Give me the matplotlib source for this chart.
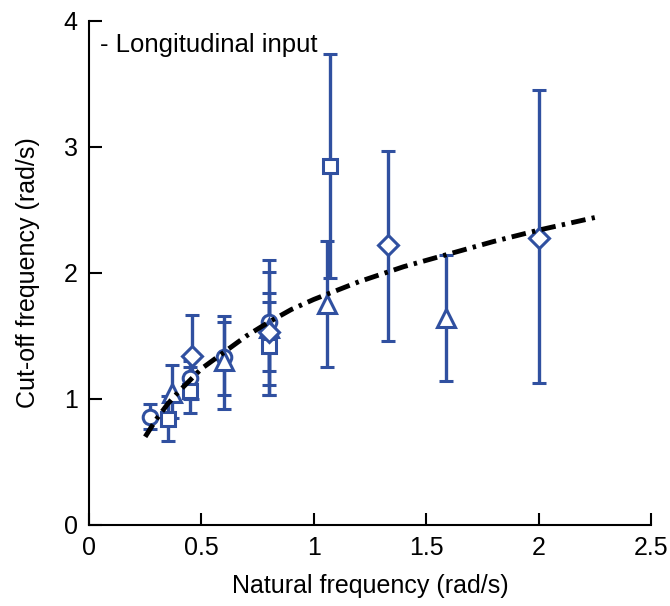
# Cut-off frequency vs natural frequency, longitudinal input.

import numpy as np
import matplotlib
matplotlib.use('Agg')
import matplotlib.pyplot as plt

plt.rcParams['font.family'] = ['Liberation Sans', 'DejaVu Sans']

# Measured points (natural freq, cut-off freq, lower and upper bar ends), one set per marker.
circ_x = [0.27, 0.45, 0.60, 0.80]
circ_y = [0.86, 1.17, 1.33, 1.61]
circ_lo = [0.76, 1.00, 1.03, 1.11]
circ_hi = [0.96, 1.30, 1.66, 2.10]

sq_x = [0.35, 0.45, 0.80, 1.07]
sq_y = [0.84, 1.06, 1.42, 2.85]
sq_lo = [0.67, 0.89, 1.03, 1.96]
sq_hi = [1.02, 1.25, 1.84, 3.74]

tri_x = [0.37, 0.60, 0.80, 1.06, 1.59]
tri_y = [1.05, 1.30, 1.56, 1.75, 1.64]
tri_lo = [0.85, 0.92, 1.22, 1.25, 1.14]
tri_hi = [1.27, 1.61, 1.77, 2.25, 2.14]

dia_x = [0.46, 0.80, 1.33, 2.00]
dia_y = [1.34, 1.53, 2.22, 2.28]
dia_lo = [1.00, 1.03, 1.46, 1.13]
dia_hi = [1.67, 2.01, 2.97, 3.45]

# Fitted trend
fit_x = [0.25, 0.30, 0.35, 0.40, 0.50, 0.60, 0.70, 0.80, 0.90, 1.00,
         1.10, 1.20, 1.40, 1.60, 1.80, 2.00, 2.25]
fit_y = [0.70, 0.84, 0.96, 1.06, 1.24, 1.37, 1.50, 1.61, 1.71, 1.79,
         1.86, 1.93, 2.05, 2.15, 2.25, 2.34, 2.44]

blue = '#3050a0'

fig = plt.figure(figsize=(6.7, 6.06), dpi=100)
ax = fig.add_axes([0.1328, 0.1337, 0.8388, 0.8317])

series = [
    (circ_x, circ_y, circ_lo, circ_hi, 'o', 10.5),
    (sq_x, sq_y, sq_lo, sq_hi, 's', 9.5),
    (tri_x, tri_y, tri_lo, tri_hi, '^', 13.5),
    (dia_x, dia_y, dia_lo, dia_hi, 'D', 10),
]
for x, y, lo, hi, mk, ms in series:
    y = np.array(y)
    err = [y - np.array(lo), np.array(hi) - y]
    ax.errorbar(x, y, yerr=err, fmt=mk, ms=ms, mfc='white', mec=blue,
                mew=2.2, color=blue, elinewidth=2.4, capsize=5, capthick=2.4,
                zorder=3)

ax.plot(fit_x, fit_y, color='black', lw=3.5, dashes=(3.0, 1.3, 0.7, 1.3), zorder=4)

ax.text(0.05, 3.81, '- Longitudinal input', fontsize=18.5, va='center', ha='left')

ax.set_xlim(0, 2.5)
ax.set_ylim(0, 4)
ax.set_xticks([0, 0.5, 1, 1.5, 2, 2.5])
ax.set_xticklabels(['0', '0.5', '1', '1.5', '2', '2.5'])
ax.set_yticks([0, 1, 2, 3, 4])
ax.spines['top'].set_visible(False)
ax.spines['right'].set_visible(False)
ax.spines['left'].set_linewidth(1.5)
ax.spines['bottom'].set_linewidth(1.5)
ax.tick_params(direction='in', length=9, width=1.5, labelsize=18, pad=8)
ax.set_xlabel('Natural frequency (rad/s)', fontsize=18, labelpad=10)
ax.set_ylabel('Cut-off frequency (rad/s)', fontsize=18, labelpad=17)

fig.savefig('out.png', dpi=100)
